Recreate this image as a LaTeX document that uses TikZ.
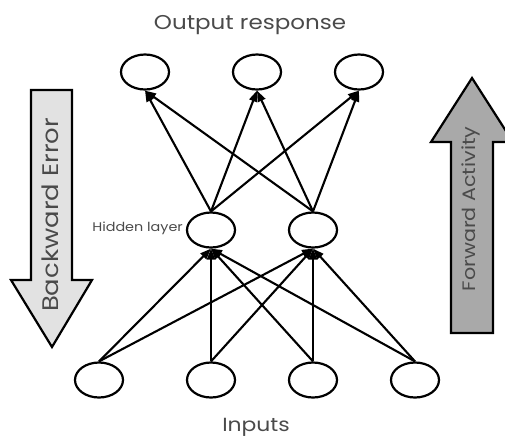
\documentclass[tikz,border=0pt]{standalone}
\usepackage{fontspec}
\setmainfont{Poppins}[FakeStretch=1.15]
\usetikzlibrary{shapes.geometric,arrows.meta}
\definecolor{txt}{HTML}{4A4A4A}
\definecolor{lightarrow}{HTML}{E2E2E2}
\definecolor{darkarrow}{HTML}{A9A9A9}
\tikzset{
  neuron/.style={draw=black,line width=2.2pt,ellipse,minimum width=48pt,minimum height=35pt,inner sep=0pt},
  conn/.style={line width=2.1pt,-{Triangle[length=11pt,width=8pt]}},
  bigarrow/.style={draw=black,line width=2.2pt,line join=miter},
  lbl/.style={text=txt,inner sep=0pt}
}
\begin{document}
\begin{tikzpicture}[x=1pt,y=-1pt]
\useasboundingbox (0,0) rectangle (505,437);
\clip (0,0) rectangle (505,437);
% output layer
\node[neuron] (o1) at (145,72) {};
\node[neuron] (o2) at (257,72) {};
\node[neuron] (o3) at (359,72) {};
% hidden layer
\node[neuron] (h1) at (211,230) {};
\node[neuron] (h2) at (313,230) {};
% input layer
\node[neuron] (i1) at (99,380) {};
\node[neuron] (i2) at (211,380) {};
\node[neuron] (i3) at (313,380) {};
\node[neuron] (i4) at (415,380) {};
% labels
\node[lbl,font=\fontsize{20}{20}\selectfont] (tout) at (250,25) {Output response};
\node[lbl,font=\fontsize{19}{19}\selectfont] (tin) at (256,427) {Inputs};
\node[lbl,font=\fontsize{12.5}{12.5}\selectfont,anchor=east] (thid) at (183,228) {Hidden layer};
% connections input -> hidden
\foreach \i in {i1,i2,i3,i4}{
  \foreach \h in {h1,h2}{
    \draw[conn] (\i.north) -- (\h.south);
  }
}
% connections hidden -> output
\foreach \h in {h1,h2}{
  \foreach \o in {o1,o2,o3}{
    \draw[conn] (\h.north) -- (\o.south);
  }
}
% big arrows
\draw[bigarrow,fill=lightarrow] (31,90) -- (72,90) -- (72,280) -- (92,280) -- (52,347) -- (11,280) -- (31,280) -- cycle;
\node[lbl,rotate=90,font=\fontsize{22.5}{22.5}\selectfont] (tback) at (50,215) {Backward Error};
\draw[bigarrow,fill=darkarrow] (451,333) -- (493,333) -- (493,142) -- (513,142) -- (472,78) -- (431,142) -- (451,142) -- cycle;
\node[lbl,rotate=90,font=\fontsize{18}{18}\selectfont] (tfwd) at (471,209) {Forward Activity};
\end{tikzpicture}
\end{document}
